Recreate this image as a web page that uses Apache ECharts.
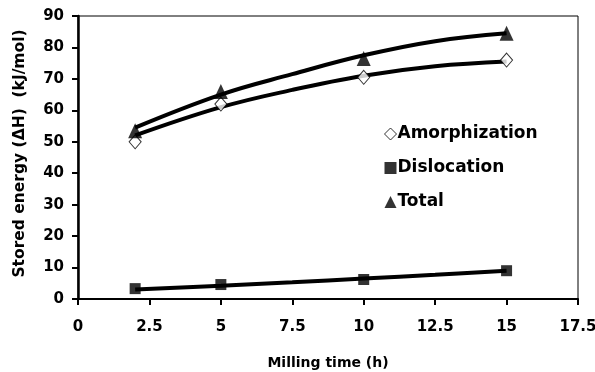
<!DOCTYPE html>
<html><head><meta charset="utf-8">
<script src="https://cdn.jsdelivr.net/npm/echarts@6/dist/echarts.min.js"></script>
<style>html,body{margin:0;padding:0;background:#fff}#c{width:595px;height:372px}</style>
</head><body><div id="c"></div>
<script>
const millingTime = [2, 5, 10, 15];
const amorphization = [50, 62, 70.5, 76];
const dislocation = [3.3, 4.6, 6.2, 9];
const total = [53.5, 66, 76.5, 84.5];
// trend-line values
const trendX = [2, 5, 7.5, 10, 12.5, 15];
const amorphTrend = [52, 61, 66.5, 71, 74, 75.5];
const dislocTrend = [3, 4.2, 5.3, 6.5, 7.7, 9];
const totalTrend = [54.5, 65, 71.5, 77.5, 82, 84.5];
const xTicks = [0, 2.5, 5, 7.5, 10, 12.5, 15, 17.5];
const yTicks = [0, 10, 20, 30, 40, 50, 60, 70, 80, 90];

const pair = (xs, ys) => xs.map((x, i) => [x, ys[i]]);
const font = '"DejaVu Sans", sans-serif';
const chart = echarts.init(document.getElementById('c'));
const trend = (name, ys) => ({
  name: name, type: 'line', data: pair(trendX, ys), smooth: 0.4, symbol: 'none',
  lineStyle: {color: '#000', width: 4}, silent: true, z: 2
});
chart.setOption({
  animation: false,
  grid: {left: 78, right: 17, top: 16, bottom: 73, show: true, borderColor: '#000', borderWidth: 1,
    outerBoundsMode: 'none', containLabel: false},
  xAxis: {
    type: 'value', min: 0, max: 17.5, interval: 2.5,
    name: 'Milling time (h)', nameLocation: 'middle', nameGap: 57,
    nameTextStyle: {fontFamily: font, fontWeight: 'bold', fontSize: 14, color: '#000'},
    axisLine: {lineStyle: {color: '#000', width: 2}},
    axisTick: {length: 6, lineStyle: {color: '#000', width: 2}},
    axisLabel: {fontFamily: font, fontWeight: 'bold', fontSize: 15, color: '#000', margin: 21,
      formatter: v => String(xTicks.find(t => Math.abs(t - v) < 1e-6) ?? v)},
    splitLine: {show: false}
  },
  yAxis: {
    type: 'value', min: 0, max: 90, interval: 10,
    name: 'Stored energy (\u0394H)  (kJ/mol)', nameLocation: 'middle', nameGap: 50, nameRotate: 90,
    nameTextStyle: {fontFamily: font, fontWeight: 'bold', fontSize: 15.5, color: '#000', padding: [0, 0, 0, 8]},
    axisLine: {lineStyle: {color: '#000', width: 2.5}},
    axisTick: {length: 6, lineStyle: {color: '#000', width: 2}},
    axisLabel: {fontFamily: font, fontWeight: 'bold', fontSize: 15, color: '#000', margin: 14,
      formatter: v => String(yTicks.find(t => t === v) ?? v)},
    splitLine: {show: false}
  },
  legend: {
    orient: 'vertical', left: 379, top: 119, itemGap: 14, itemWidth: 12, itemHeight: 12,
    textStyle: {fontFamily: font, fontWeight: 'bold', fontSize: 17, lineHeight: 20, color: '#000', padding: [0,0,0,-4]},
    data: [
      {name: 'Amorphization', icon: 'diamond', itemStyle: {color: '#fff', borderColor: '#000', borderWidth: 1}},
      {name: 'Dislocation', icon: 'rect', itemStyle: {color: '#000'}},
      {name: 'Total', icon: 'triangle', itemStyle: {color: '#000'}}
    ]
  },
  series: [
    trend('aTrend', amorphTrend),
    trend('dTrend', dislocTrend),
    trend('tTrend', totalTrend),
    {name: 'Amorphization', type: 'scatter', data: pair(millingTime, amorphization), symbol: 'diamond', symbolSize: [12, 14],
     itemStyle: {color: '#fff', borderColor: '#000', borderWidth: 1}, z: 3},
    {name: 'Dislocation', type: 'scatter', data: pair(millingTime, dislocation), symbol: 'rect', symbolSize: 11,
     itemStyle: {color: '#000'}, z: 3},
    {name: 'Total', type: 'scatter', data: pair(millingTime, total), symbol: 'triangle', symbolSize: [14, 15],
     itemStyle: {color: '#000'}, z: 3}
  ]
});
</script></body></html>
